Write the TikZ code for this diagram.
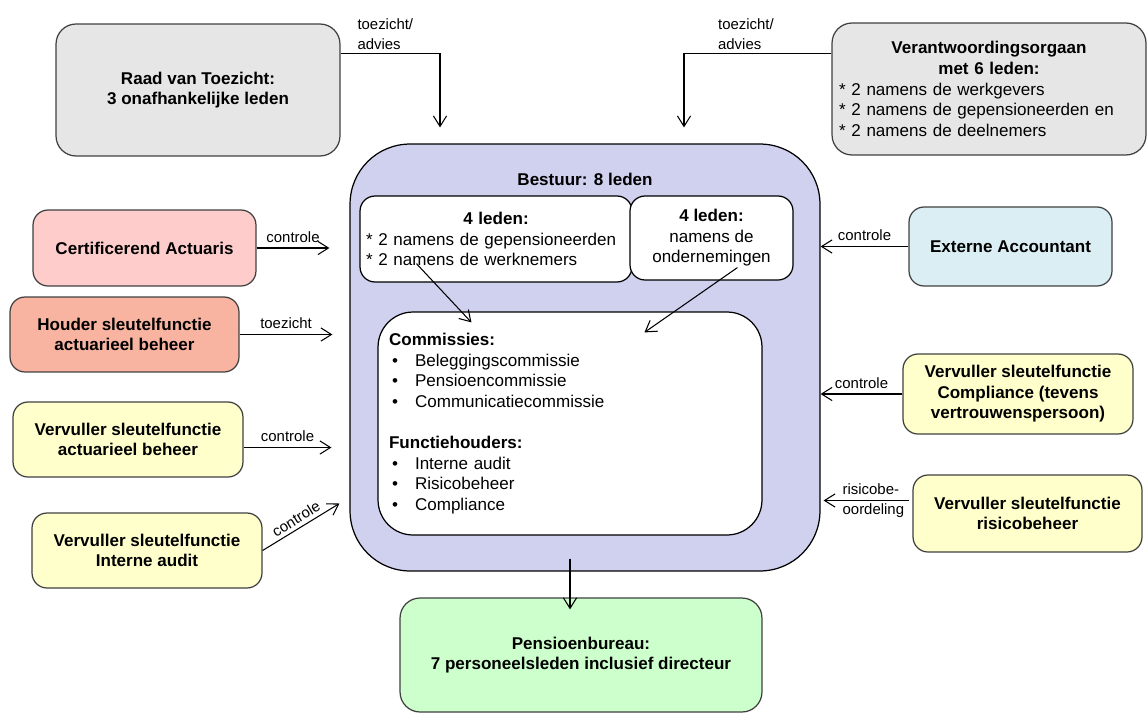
\documentclass[tikz,border=0pt]{standalone}
\usepackage{fontspec}
\setmainfont{Liberation Sans}
\usetikzlibrary{shapes}
\usetikzlibrary{arrows,arrows.meta}
\usetikzlibrary{calc,positioning}

\definecolor{grijs}{HTML}{E6E6E6}
\definecolor{lavendel}{HTML}{D0D0EF}
\definecolor{roze}{HTML}{FFCCCC}
\definecolor{zalm}{HTML}{F9B4A1}
\definecolor{geel}{HTML}{FFFFCC}
\definecolor{lichtblauw}{HTML}{DAEEF3}
\definecolor{lichtgroen}{HTML}{CCFFCC}
\newcommand{\opsomteken}{\hspace*{0.06cm}\makebox[0.46cm][l]{\textbullet}}

\begin{document}
\begin{tikzpicture}[x=0.02cm, y=-0.02cm]
	\tikzstyle{box}=[draw={rgb:black,3;white,1}, line width=0.7pt, rounded corners=0.3cm,
	align=center, inner sep=0pt, font=\fontsize{9.7}{11.7}\selectfont\bfseries]
	\tikzstyle{binnen}=[box, fill=white, draw=black, font=\fontsize{9.7}{11.7}\selectfont]
	\tikzstyle{pijl}=[-{Straight Barb[length=6pt,width=7.5pt]}, line width=0.6pt]
	\tikzstyle{lbl}=[font=\fontsize{8.5}{11.2}\selectfont, inner sep=0pt]
	\useasboundingbox (0,0) rectangle (1148,713);

	% toezicht
	\node[box, fill=grijs, minimum width=5.68cm, minimum height=2.64cm, rounded corners=0.4cm] (raad) at (198,90) {Raad van Toezicht:\\3 onafhankelijke leden};
	\node[box, fill=grijs, minimum width=6.28cm, minimum height=2.64cm, rounded corners=0.4cm, text width=6cm, align=left] (verant) at (989,89)
	{{\centering Verantwoordingsorgaan\\met 6 leden:\par}\mdseries{*} 2 namens de werkgevers\\{*} 2 namens de gepensioneerden en\\{*} 2 namens de deelnemers};

	% bestuur
	\node[box, fill=lavendel, draw=black, minimum width=9.4cm, minimum height=8.54cm, rounded corners=1.2cm] (bestuur) at (585,357.5) {};
	\node[font=\fontsize{9.7}{11.7}\selectfont\bfseries, inner sep=0pt] (bestuurKop) at (585,179) {Bestuur: 8 leden};
	\node[binnen, minimum width=5.44cm, minimum height=1.72cm, text width=5.2cm, align=left] (ledenA) at (496,239)
	{{\centering\bfseries 4 leden:\par}{*} 2 namens de gepensioneerden\\{*} 2 namens de werknemers};
	\node[binnen, minimum width=3.26cm, minimum height=1.68cm] (ledenB) at (711.5,238) {\textbf{4 leden:}\\namens de\\ondernemingen};
	\node[binnen, minimum width=7.68cm, minimum height=4.46cm, rounded corners=0.7cm, text width=7.24cm, align=left] (commissies) at (570,423.5)
	{\textbf{Commissies:}\\\opsomteken Beleggingscommissie\\\opsomteken Pensioencommissie\\\opsomteken Communicatiecommissie\\[11.7pt]
	\textbf{Functiehouders:}\\\opsomteken Interne audit\\\opsomteken Risicobeheer\\\opsomteken Compliance};
	\node[box, fill=lichtgroen, minimum width=7.24cm, minimum height=2.28cm, rounded corners=0.4cm] (pensioen) at (581,655) {Pensioenbureau:\\7 personeelsleden inclusief directeur};

	% links
	\node[box, fill=roze, minimum width=4.46cm, minimum height=1.52cm] (cert) at (144.5,248) {Certificerend Actuaris};
	\node[box, fill=zalm, minimum width=4.58cm, minimum height=1.5cm] (houder) at (124.5,334.5) {Houder sleutelfunctie\\actuarieel beheer};
	\node[box, fill=geel, minimum width=4.6cm, minimum height=1.5cm] (vActuarieel) at (128,439.5) {Vervuller sleutelfunctie\\actuarieel beheer};
	\node[box, fill=geel, minimum width=4.6cm, minimum height=1.5cm] (vAudit) at (147,550.5) {Vervuller sleutelfunctie\\Interne audit};

	% rechts
	\node[box, fill=lichtblauw, minimum width=4.06cm, minimum height=1.58cm] (extern) at (1010.5,246.5) {Externe Accountant};
	\node[box, fill=geel, minimum width=4.6cm, minimum height=1.6cm] (vCompliance) at (1018,394) {Vervuller sleutelfunctie\\Compliance (tevens\\vertrouwenspersoon)};
	\node[box, fill=geel, minimum width=4.58cm, minimum height=1.54cm] (vRisico) at (1027.5,513.5) {Vervuller sleutelfunctie\\risicobeheer};

	\coordinate (inRaad) at ($(bestuur.north)+(-145,-16)$);
	\coordinate (inVerant) at ($(bestuur.north)+(99,-16)$);
	\draw[pijl] ($(raad.north east)+(0,30)$) -| (inRaad) node[lbl, pos=0.225, above=2pt, align=left] (tkRaad) {toezicht/\\advies};
	\draw[pijl] ($(verant.north west)+(0,31)$) -| (inVerant) node[lbl, pos=0.29, above=2pt, align=left] (tkVerant) {toezicht/\\advies};

	\draw[pijl] (cert.east) -- ($(cert.east -| bestuur.west)+(-20,0)$) node[lbl, midway, above=3pt] (ctCert) {controle};
	\draw[pijl] (houder.east) -- ($(houder.east -| bestuur.west)+(-17,0)$) node[lbl, midway, above=3pt] (tzHouder) {toezicht};
	\draw[pijl] ($(vActuarieel.east)+(0,8)$) -- ($(vActuarieel.east -| bestuur.west)+(-18,8)$) node[lbl, midway, above=3pt] (ctActuarieel) {controle};
	\draw[pijl] (vAudit.east) -- ($(vAudit.east -| bestuur.west)+(-10,-47)$) node[lbl, pos=0.5, sloped, above=2pt] (ctAudit) {controle};

	\draw[pijl] (extern.west) -- (extern.west -| bestuur.east) node[lbl, midway, above=3pt] (ctExtern) {controle};
	\draw[pijl] (vCompliance.west) -- (vCompliance.west -| bestuur.east) node[lbl, midway, above=3pt] (ctCompliance) {controle};
	\draw[pijl] ($(vRisico.west)+(-3,-13)$) -- ($(vRisico.west -| bestuur.east)+(3,-13)$) node[lbl, pos=0.42, align=left] (rbRisico) {risicobe-\\oordeling};

	\draw[pijl] ($(ledenA.south west)+(57,-19)$) -- ($(commissies.north west)+(94,11)$);
	\draw[pijl] ($(ledenB.south west)+(108,-13)$) -- ($(commissies.north west)+(267,21)$);
	\draw[pijl] ($(commissies.south)+(0,23)$) -- ($(pensioen.north)+(-11,12)$);
\end{tikzpicture}
\end{document}
